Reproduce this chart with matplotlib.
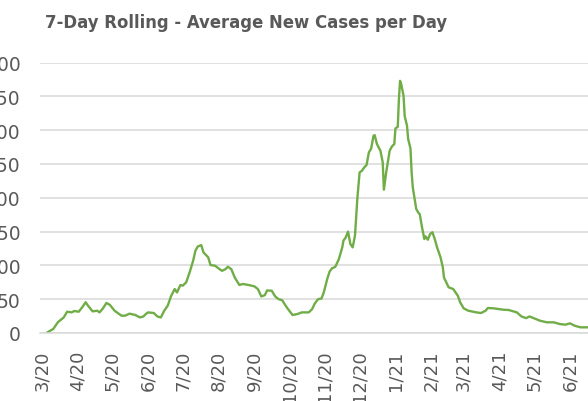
import matplotlib
matplotlib.use("Agg")
import matplotlib.pyplot as plt
import matplotlib.dates as mdates
import pandas as pd

dates = [
    "2020-03-06", "2020-03-11", "2020-03-15", "2020-03-20", "2020-03-23", "2020-03-27", "2020-03-29",
    "2020-04-02", "2020-04-05", "2020-04-08", "2020-04-10", "2020-04-14", "2020-04-18", "2020-04-20",
    "2020-04-23", "2020-04-26", "2020-04-29", "2020-05-03", "2020-05-09", "2020-05-12", "2020-05-16",
    "2020-05-21", "2020-05-25", "2020-05-28", "2020-05-30", "2020-06-01", "2020-06-06", "2020-06-09",
    "2020-06-12", "2020-06-15", "2020-06-18", "2020-06-21", "2020-06-24", "2020-06-26", "2020-06-29",
    "2020-07-01", "2020-07-04", "2020-07-07", "2020-07-10", "2020-07-12", "2020-07-14", "2020-07-17",
    "2020-07-19", "2020-07-23", "2020-07-25", "2020-07-29", "2020-08-01", "2020-08-04", "2020-08-07",
    "2020-08-09", "2020-08-12", "2020-08-15", "2020-08-19", "2020-08-22", "2020-08-27", "2020-09-01",
    "2020-09-04", "2020-09-07", "2020-09-10", "2020-09-12", "2020-09-16", "2020-09-19", "2020-09-22",
    "2020-09-25", "2020-09-27", "2020-09-30", "2020-10-04", "2020-10-08", "2020-10-12", "2020-10-18",
    "2020-10-21", "2020-10-23", "2020-10-26", "2020-10-29", "2020-10-31", "2020-11-03", "2020-11-05",
    "2020-11-07", "2020-11-10", "2020-11-13", "2020-11-16", "2020-11-17", "2020-11-19", "2020-11-21",
    "2020-11-23", "2020-11-25", "2020-11-27", "2020-11-29", "2020-12-01", "2020-12-03", "2020-12-05",
    "2020-12-07", "2020-12-09", "2020-12-11", "2020-12-13", "2020-12-14", "2020-12-16", "2020-12-19",
    "2020-12-21", "2020-12-22", "2020-12-24", "2020-12-27", "2020-12-28", "2020-12-29", "2020-12-31",
    "2021-01-01", "2021-01-03", "2021-01-04", "2021-01-05", "2021-01-06", "2021-01-08", "2021-01-09",
    "2021-01-11", "2021-01-12", "2021-01-14", "2021-01-15", "2021-01-16", "2021-01-19", "2021-01-21",
    "2021-01-22", "2021-01-24", "2021-01-26", "2021-01-27", "2021-01-29", "2021-01-31", "2021-02-02",
    "2021-02-04", "2021-02-06", "2021-02-09", "2021-02-11", "2021-02-12", "2021-02-16", "2021-02-20",
    "2021-02-24", "2021-02-26", "2021-03-01", "2021-03-05", "2021-03-08", "2021-03-12", "2021-03-16",
    "2021-03-20", "2021-03-22", "2021-03-27", "2021-03-31", "2021-04-04", "2021-04-09", "2021-04-13",
    "2021-04-16", "2021-04-20", "2021-04-24", "2021-04-27", "2021-05-01", "2021-05-06", "2021-05-12",
    "2021-05-18", "2021-05-23", "2021-05-28", "2021-06-01", "2021-06-05", "2021-06-10", "2021-06-16",
]
cases = [
    1, 6, 16, 23, 31.5, 30.5, 32.5,
    31.5, 38, 45.5, 40.5, 32, 33, 30.5,
    36.5, 44.5, 41.5, 33, 25.6, 25.6, 28.6,
    26.6, 23, 24.5, 28, 30.5, 29.5, 24.5,
    23, 33, 40.5, 55, 65, 60, 71,
    70, 75, 90, 107, 122, 128, 130,
    119, 112, 100.5, 99.5, 95.5, 92, 94.5,
    98, 94.5, 82, 71, 72.5, 71, 69,
    65, 54, 56, 63, 62.5, 54, 50,
    48.5, 43, 35.5, 26.6, 28, 30.5, 30.5,
    35.5, 43, 50, 51, 60, 80, 90.7,
    95.5, 98, 109, 126.7, 136.5, 141.5, 150,
    131.6, 126.7, 144, 198, 237.6, 240, 245,
    248.5, 267, 273, 291.7, 292.7, 279.5, 269.6,
    252.5, 212, 237.6, 269.6, 273, 276, 279.5,
    302.6, 305, 346, 373, 368, 351, 321,
    306.6, 287, 273, 237.6, 215.5, 183.4, 177.5,
    176, 156.3, 139, 143, 138, 146.4, 149,
    139, 126.7, 112, 97, 82, 67.6, 65,
    55, 45.4, 36.5, 33, 32, 30.5, 29.6,
    33, 37, 36.5, 35.5, 34.5, 34, 32,
    30.5, 24.5, 22, 24.5, 21.7, 18.2, 15.8,
    15.8, 13.3, 12.3, 14.3, 10.8, 8.4, 8.4,
]
y_ticks = [0, 50, 100, 150, 200, 250, 300, 350, 400]
title = "7-Day Rolling - Average New Cases per Day"

TEXT = "#595959"
GRID = "#D9D9D9"
GREEN = "#70AD47"

plt.rcParams['font.family'] = ['DejaVu Sans']

W, H = 588, 402
fig = plt.figure(figsize=(W / 100, H / 100), dpi=100)
ax = fig.add_axes([40 / W, 1 - 334 / H, 1 - 40 / W, (334 - 63.6) / H])

x = pd.to_datetime(dates)
ax.plot(x, cases, color=GREEN, lw=1.7, solid_joinstyle='round')

ax.set_ylim(0, 400)
ax.set_yticks(y_ticks)
ax.set_xlim(pd.Timestamp("2020-02-28 12:00"), pd.Timestamp("2021-06-16 14:00"))
ax.xaxis.set_major_locator(mdates.MonthLocator())
ax.xaxis.set_major_formatter(mdates.DateFormatter("%-m/%y"))

ax.grid(axis='y', color=GRID, lw=1.1)
ax.set_axisbelow(True)
for s in ['top', 'right', 'left']:
    ax.spines[s].set_visible(False)
ax.spines['bottom'].set_color(GRID)
ax.spines['bottom'].set_linewidth(1.1)

ax.tick_params(axis='y', length=0, pad=14, labelsize=13.5, labelcolor=TEXT)
ax.tick_params(axis='x', length=0, pad=12, labelsize=13, labelcolor=TEXT, rotation=90)

fig.text(246 / W, 1 - 23.5 / H, title, ha='center', va='center', fontsize=11.9,
         fontweight='bold', color=TEXT)

fig.savefig("out.png", dpi=100)
